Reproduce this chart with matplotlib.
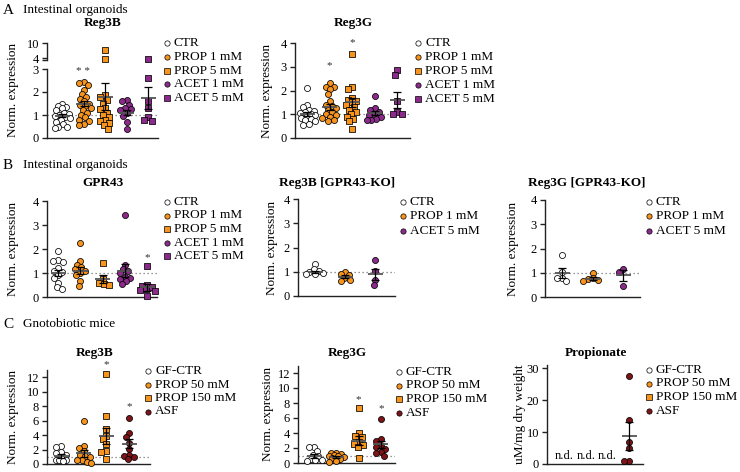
import numpy as np
import matplotlib
matplotlib.use("Agg")
import matplotlib.pyplot as plt
from matplotlib.lines import Line2D

plt.rcParams['font.family'] = ['Liberation Serif', 'DejaVu Serif']

ORANGE = '#f7941d'
PURPLE = '#8b2a8b'
DARKRED = '#7d1518'

STYLE = {'CTR': ('white', 'o'), 'PROP 1 mM': (ORANGE, 'o'), 'PROP 5 mM': (ORANGE, 's'),
         'ACET 1 mM': (PURPLE, 'o'), 'ACET 5 mM': (PURPLE, 's'),
         'GF-CTR': ('white', 'o'), 'PROP 50 mM': (ORANGE, 'o'), 'PROP 150 mM': (ORANGE, 's'),
         'ASF': (DARKRED, 'o')}
# the GPR43-KO panels draw ACET 5 mM as circles
KO_STYLE = dict(STYLE, **{'ACET 5 mM': (PURPLE, 'o')})

# ---- data ----
org_groups = ['CTR', 'PROP 1 mM', 'PROP 5 mM', 'ACET 1 mM', 'ACET 5 mM']
ko_groups = ['CTR', 'PROP 1 mM', 'ACET 5 mM']
mice_groups = ['GF-CTR', 'PROP 50 mM', 'PROP 150 mM', 'ASF']

a_reg3b = [[1.5, 1.4, 1.35, 1.3, 1.2, 1.1, 1.05, 1.0, 0.95, 0.9, 0.85, 0.8, 0.7, 0.6, 0.5, 0.5, 0.45],
           [2.45, 2.4, 2.3, 2.1, 1.9, 1.8, 1.7, 1.6, 1.5, 1.45, 1.4, 1.3, 1.2, 1.1, 1.0, 0.9, 0.8, 0.75, 0.6, 0.55],
           [7.5, 3.6, 1.85, 1.8, 1.65, 1.5, 1.3, 1.25, 1.1, 1.0, 0.9, 0.8, 0.75, 0.65, 0.55, 0.4],
           [1.65, 1.6, 1.45, 1.3, 1.25, 1.2, 1.1, 0.95, 0.7, 0.4],
           [3.6, 2.6, 1.6, 1.3, 0.9, 0.8, 0.75]]
a_reg3b_mean = [0.97, 1.5, 1.8, 1.1, 1.72]
a_reg3b_sem = [0.07, 0.13, 0.6, 0.12, 0.48]
a_reg3b_star = {1: ('* *', 2.9)}

a_reg3g = [[2.1, 1.4, 1.3, 1.2, 1.15, 1.1, 1.05, 1.0, 0.95, 0.9, 0.85, 0.8, 0.75, 0.7, 0.6, 0.55],
           [2.3, 2.15, 2.15, 2.05, 1.85, 1.55, 1.4, 1.35, 1.25, 1.2, 1.1, 1.0, 0.95, 0.9, 0.85, 0.75, 0.7],
           [3.55, 2.15, 2.05, 1.7, 1.6, 1.55, 1.5, 1.4, 1.3, 1.2, 1.1, 1.0, 0.9, 0.8, 0.7, 0.4],
           [1.75, 1.25, 1.2, 1.1, 1.0, 0.95, 0.9, 0.8, 0.75, 0.75],
           [2.85, 2.65, 1.55, 1.1, 1.0, 1.0]]
a_reg3g_mean = [1.0, 1.3, 1.5, 1.05, 1.6]
a_reg3g_sem = [0.08, 0.12, 0.18, 0.09, 0.32]
a_reg3g_star = {1: ('*', 3.05), 2: ('*', 4.0)}

b_gpr43 = [[1.9, 1.55, 1.5, 1.45, 1.2, 1.1, 1.05, 0.9, 0.8, 0.6, 0.4, 0.35],
           [2.25, 1.5, 1.35, 1.25, 1.15, 1.1, 1.0, 0.9, 0.65, 0.45],
           [1.4, 0.75, 0.6, 0.55, 0.5],
           [3.4, 1.35, 1.15, 1.1, 1.0, 0.85, 0.8, 0.75, 0.65, 0.55],
           [1.3, 0.5, 0.45, 0.4, 0.35, 0.3, 0.25, 0.05]]
b_gpr43_mean = [1.0, 1.1, 0.75, 1.1, 0.4]
b_gpr43_sem = [0.14, 0.15, 0.17, 0.27, 0.14]
b_gpr43_star = {4: ('*', 1.65)}

b_reg3b_ko = [[1.3, 1.1, 1.05, 1.0, 0.95, 0.9, 0.9],
              [1.0, 0.9, 0.85, 0.75, 0.65, 0.6],
              [1.5, 1.05, 0.65, 0.45]]
b_reg3b_ko_mean = [1.0, 0.8, 0.9]
b_reg3b_ko_sem = [0.05, 0.06, 0.23]

b_reg3g_ko = [[1.75, 1.05, 0.8, 0.8, 0.65],
              [1.0, 0.78, 0.75, 0.72, 0.65],
              [1.15, 1.05, 0.45]]
b_reg3g_ko_mean = [1.0, 0.75, 0.9]
b_reg3g_ko_sem = [0.2, 0.06, 0.22]

c_reg3b = [[2.5, 2.4, 1.6, 1.5, 1.2, 0.8, 0.6, 0.5, 0.5, 0.4],
           [6.0, 2.5, 2.2, 1.8, 1.3, 1.1, 0.9, 0.6, 0.5, 0.3, 0.2],
           [12.4, 6.6, 4.9, 3.9, 3.4, 2.8, 1.8, 1.7, 0.7],
           [6.3, 4.3, 3.8, 2.9, 2.1, 1.3, 1.1, 0.9, 0.7]]
c_reg3b_mean = [1.1, 1.5, 3.9, 2.8]
c_reg3b_sem = [0.25, 0.5, 1.1, 0.65]
c_reg3b_star = {2: ('*', 13.8), 3: ('*', 7.9)}

c_reg3g = [[2.2, 2.1, 1.6, 1.1, 0.9, 0.5, 0.4, 0.4, 0.3],
           [1.4, 1.3, 1.2, 1.1, 1.0, 0.9, 0.8, 0.7, 0.5, 0.3, 0.2],
           [7.3, 4.0, 3.6, 3.5, 2.8, 2.5, 2.4, 2.2, 0.7],
           [5.9, 3.2, 3.0, 2.3, 2.2, 1.9, 1.5, 1.3, 1.0]]
c_reg3g_mean = [0.9, 0.85, 3.0, 2.5]
c_reg3g_sem = [0.25, 0.12, 0.6, 0.5]
c_reg3g_star = {2: ('*', 8.5), 3: ('*', 7.2)}

c_prop = [[], [], [], [27.5, 13.8, 6.8, 5.0, 0.8, 0.8]]
c_prop_mean = [None, None, None, 8.8]
c_prop_sem = [None, None, None, 4.4]

W, H = 740, 472
fig = plt.figure(figsize=(W / 100, H / 100), dpi=100)


def add_ax(x0, y0, x1, y1):
    return fig.add_axes([x0 / W, 1 - y1 / H, (x1 - x0) / W, (y1 - y0) / H])


def swarm(v, ppu_y, ppu_x, maxw=7.5, d=5.0):
    # simple beeswarm in pixel units, kept inside +-maxw
    ys = np.asarray(v, dtype=float) * ppu_y
    offs = np.zeros(len(ys))
    placed = []
    cands = sorted(np.arange(-maxw, maxw + 0.01, 0.5), key=abs)
    for i in np.argsort(-ys):
        best, best_d = 0.0, -1
        for c in cands:
            md = min([np.hypot(c - px, ys[i] - py) for px, py in placed] or [99])
            if md >= d:
                best = c
                break
            if md > best_d:
                best, best_d = c, md
        offs[i] = best
        placed.append((best, ys[i]))
    return offs / ppu_x


def style(ax, xlim, ylim, yticks, bottom=True):
    ax.set_xlim(xlim)
    ax.set_ylim(ylim)
    ax.set_yticks(yticks)
    ax.spines['top'].set_visible(False)
    ax.spines['right'].set_visible(False)
    ax.spines['bottom'].set_visible(bottom)
    for s in ['left', 'bottom']:
        ax.spines[s].set_linewidth(1.0)
        ax.spines[s].set_color('#222222')
    ax.tick_params(axis='x', bottom=False, labelbottom=False)
    ax.tick_params(axis='y', length=3.8, width=1.0, labelsize=9, pad=2, color='#222222')
    ax.patch.set_alpha(0)


def draw(ax, groups, data, means, sems, ppu_x, ppu_y, lo=-np.inf, hi=np.inf, stars=None,
         ref=True, styles=STYLE, maxw=7.5):
    if ref:
        ax.axhline(1, color='#777777', lw=0.9, ls=(0, (1, 2.2)), zorder=0)
    for i, (g, vals) in enumerate(zip(groups, data)):
        v = np.array([x for x in vals if lo <= x < hi])
        if len(v):
            fc, mk = styles[g]
            offs = swarm(v, ppu_y, ppu_x, maxw=maxw)
            ax.scatter(i + offs, v, s=19, c=fc, marker=mk, edgecolors='k', linewidths=0.55,
                       zorder=3, clip_on=False)
        if means is not None and means[i] is not None:
            hw = 7.5 / ppu_x
            ax.hlines(means[i], i - hw, i + hw, color='#555555', lw=1.3, zorder=4)
            ax.errorbar(i, means[i], yerr=sems[i], fmt='none', ecolor='k', elinewidth=0.9,
                        capsize=3, capthick=0.9, zorder=5)
    if stars:
        for i, (s, y) in stars.items():
            ax.text(i, y, s, ha='center', va='center', fontsize=8, color='#333333')


def legend(xm, y0, groups, dy=13.8, styles=STYLE):
    for k, g in enumerate(groups):
        fc, mk = styles[g]
        y = 1 - (y0 + k * dy) / H
        fig.add_artist(Line2D([xm / W], [y], marker=mk, ms=3.8, mfc=fc, mec='k', mew=0.5,
                              ls='none', transform=fig.transFigure))
        fig.text((xm + 7) / W, y, g, va='center', ha='left', fontsize=9.5)


def title(x, y, s):
    fig.text(x / W, 1 - y / H, s, ha='center', va='center', fontsize=9.5, fontweight='bold')


def ylabel(x, y0, y1, s='Norm. expression'):
    fig.text(x / W, 1 - (y0 + y1) / 2 / H, s, rotation=90, ha='center', va='center', fontsize=9.5)


def xlim_for(L, R, c0, s):
    return ((L - c0) / s, (R - c0) / s)


# ---- section labels ----
for lab, txt, y in [('A', 'Intestinal organoids', 10), ('B', 'Intestinal organoids', 165),
                    ('C', 'Gnotobiotic mice', 324)]:
    fig.text(3 / W, 1 - y / H, lab, ha='left', va='center', fontsize=11)
    fig.text(23 / W, 1 - y / H, txt, ha='left', va='center', fontsize=9.5)

# ---- A Reg3B (broken axis) ----
xl = xlim_for(47, 158, 62, 21.5)
ax_lo = add_ax(47, 69, 158, 138)
style(ax_lo, xl, (0, 3), [0, 1, 2, 3])
draw(ax_lo, org_groups, a_reg3b, a_reg3b_mean, a_reg3b_sem, 21.5, 23, hi=3.0, stars=a_reg3b_star)
ax_hi = add_ax(47, 41, 158, 61)
style(ax_hi, xl, (3.0, 10.9), [4, 10], bottom=False)
ax_hi.spines['left'].set_bounds(3.3, 10)
ax_hi.set_yticks([3.3], minor=True)
ax_hi.tick_params(axis='y', which='minor', length=3.8, width=1.0, color='#222222')
draw(ax_hi, org_groups, a_reg3b, None, None, 21.5, 2.53, lo=3.0, ref=False)
title(103, 23, 'Reg3B')
ylabel(13, 41, 138)
legend(167, 43, org_groups)

# ---- A Reg3G ----
ax = add_ax(295, 43, 410, 138)
style(ax, xlim_for(295, 410, 307, 22.5), (0, 4), [0, 1, 2, 3, 4])
draw(ax, org_groups, a_reg3g, a_reg3g_mean, a_reg3g_sem, 22.5, 23.75, stars=a_reg3g_star)
title(353, 23, 'Reg3G')
ylabel(267, 43, 138)
legend(418, 43, org_groups, dy=14)

# ---- B GPR43 ----
ax = add_ax(47, 201, 157, 297)
style(ax, xlim_for(47, 157, 58, 22.3), (0, 4), [0, 1, 2, 3, 4])
draw(ax, org_groups, b_gpr43, b_gpr43_mean, b_gpr43_sem, 22.3, 24, stars=b_gpr43_star)
title(103, 183, 'GPR43')
ylabel(13, 201, 297)
legend(167, 202, org_groups, dy=13.5)

# ---- B Reg3B KO ----
ax = add_ax(298, 199, 395, 296)
style(ax, xlim_for(298, 395, 315, 30), (0, 4), [0, 1, 2, 3, 4])
draw(ax, ko_groups, b_reg3b_ko, b_reg3b_ko_mean, b_reg3b_ko_sem, 30, 24.25,
     styles=KO_STYLE, maxw=9.5)
title(337, 183, 'Reg3B [GPR43-KO]')
ylabel(272, 199, 296)
legend(403, 202, ko_groups, dy=14.3, styles=KO_STYLE)

# ---- B Reg3G KO ----
ax = add_ax(545, 200, 640, 297)
style(ax, xlim_for(545, 640, 562, 30.5), (0, 4), [0, 1, 2, 3, 4])
draw(ax, ko_groups, b_reg3g_ko, b_reg3g_ko_mean, b_reg3g_ko_sem, 30.5, 24.25,
     styles=KO_STYLE, maxw=9.5)
title(587, 183, 'Reg3G [GPR43-KO]')
ylabel(513, 200, 297)
legend(649, 202, ko_groups, dy=14.3, styles=KO_STYLE)

# ---- C Reg3B ----
ax = add_ax(47, 370, 150, 464)
style(ax, xlim_for(47, 150, 61, 22.7), (0, 13), [0, 2, 4, 6, 8, 10, 12])
draw(ax, mice_groups, c_reg3b, c_reg3b_mean, c_reg3b_sem, 22.7, 7.23, stars=c_reg3b_star)
title(95, 353, 'Reg3B')
ylabel(13, 370, 464)
legend(148, 371, mice_groups, dy=13.5)

# ---- C Reg3G ----
ax = add_ax(298, 365.5, 395, 463)
style(ax, xlim_for(298, 395, 314, 22.3), (0, 13), [0, 2, 4, 6, 8, 10, 12])
draw(ax, mice_groups, c_reg3g, c_reg3g_mean, c_reg3g_sem, 22.3, 7.5, stars=c_reg3g_star)
title(347, 353, 'Reg3G')
ylabel(268, 365, 463)
legend(399, 372, mice_groups, dy=13.5)

# ---- C Propionate ----
ax = add_ax(547, 365, 643, 464)
style(ax, xlim_for(547, 643, 564, 21.7), (0, 31), [0, 10, 20, 30])
draw(ax, mice_groups, c_prop, c_prop_mean, c_prop_sem, 21.7, 3.19, ref=False)
for i in range(3):
    ax.text(i, 0.6, 'n.d.', ha='center', va='bottom', fontsize=9)
title(596, 353, 'Propionate')
ylabel(520, 365, 464, 'uM/mg dry weight')
legend(649, 370, mice_groups, dy=13.5)

fig.savefig('out.png', dpi=100)
